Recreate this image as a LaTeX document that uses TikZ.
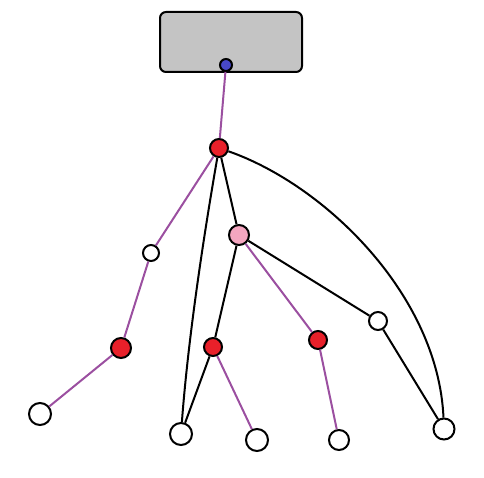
\documentclass[tikz,border=0pt]{standalone}
\usepackage{tikz}

\definecolor{boxgray}{HTML}{C4C4C4}
\definecolor{dotred}{HTML}{E8202A}
\definecolor{dotpink}{HTML}{F4A6C0}
\definecolor{dotblue}{HTML}{4848C8}
\definecolor{pathpurple}{HTML}{9B4FA0}

\begin{document}
\begin{tikzpicture}[x = 1pt, y = -1pt,
  vert/.style = {circle, draw, line width=2pt, inner sep=0pt, fill=white, minimum size=#1},
  vert/.default = 20pt,
  edge/.style = {line width=2pt},
  hot/.style = {line width=2pt, pathpurple}]
\useasboundingbox (0,0) rectangle (484,478);
\node[draw, line width=2pt, rounded corners=6pt, fill=boxgray, minimum width=142pt, minimum height=60pt] (box) at (231,42) {};
\node[vert=12pt, fill=dotblue] (src) at (226,65) {};
\node[vert=18pt, fill=dotred] (top) at (219,148) {};
\node[vert=20pt, fill=dotpink] (mid) at (239,235) {};
\node[vert=16pt] (lw) at (151,253) {};
\node[vert=20pt, fill=dotred] (lr) at (121,348) {};
\node[vert=18pt, fill=dotred] (cr) at (213,347) {};
\node[vert=18pt, fill=dotred] (rr) at (318,340) {};
\node[vert=18pt] (rw) at (378,321) {};
\node[vert=22pt] (leafa) at (40,414) {};
\node[vert=22pt] (leafb) at (181,434) {};
\node[vert=22pt] (leafc) at (257,440) {};
\node[vert=20pt] (leafd) at (339,440) {};
\node[vert=21pt] (leafe) at (444,429) {};
\draw[hot] (src) -- (top);
\draw[hot] (top) -- (lw);
\draw[hot] (lw) -- (lr);
\draw[hot] (lr) -- (leafa);
\draw[edge] (top) -- (mid);
\draw[edge] (top) .. controls (203,240) and (188,340) .. (leafb);
\draw[edge] (top) .. controls (325,185) and (438,295) .. (leafe);
\draw[edge] (mid) -- (cr);
\draw[edge] (cr) -- (leafb);
\draw[hot] (cr) -- (leafc);
\draw[hot] (mid) -- (rr);
\draw[hot] (rr) -- (leafd);
\draw[edge] (mid) -- (rw);
\draw[edge] (rw) -- (leafe);
\end{tikzpicture}
\end{document}
